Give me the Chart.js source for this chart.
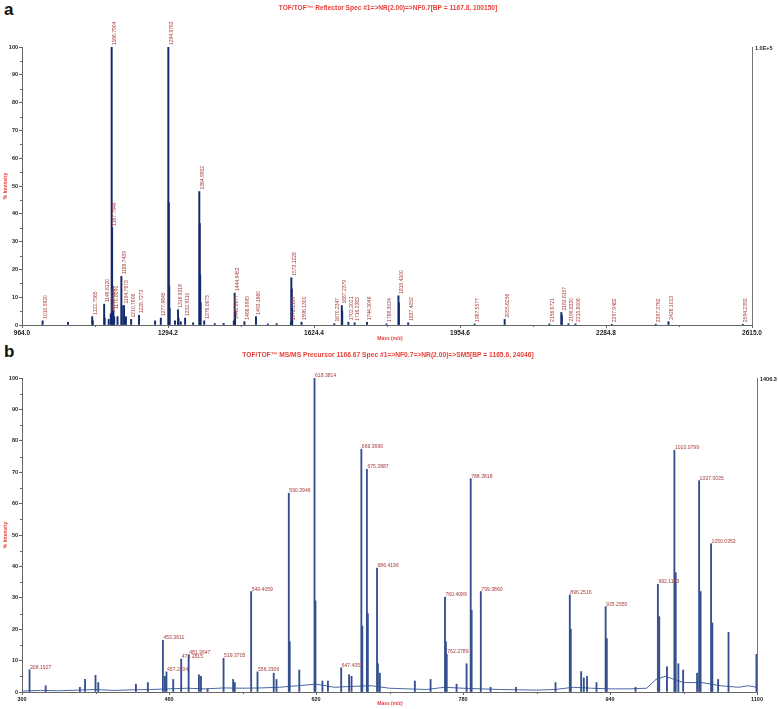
<!DOCTYPE html>
<html>
<head>
<meta charset="utf-8">
<script src="https://cdn.jsdelivr.net/npm/chart.js@4.4.1/dist/chart.umd.min.js"></script>
<style>
  body { margin: 0; background: #fff; width: 778px; height: 709px; overflow: hidden; position: relative; }
  canvas { position: absolute; left: 0; }
  #spec-a { top: 0; }
  #spec-b { top: 345px; }
  .panel-tag { position: absolute; left: 4px; font: bold 17px "Liberation Sans", Arial, sans-serif; color: #111; }
</style>
</head>
<body>
<div class="panel-tag" style="top:0">a</div>
<div class="panel-tag" style="top:342px">b</div>
<canvas id="spec-a" width="778" height="345"></canvas>
<canvas id="spec-b" width="778" height="364"></canvas>
<script>
"use strict";

// ---- panel a: reflector MS spectrum ----
const aTicks = [964.0, 1294.2, 1624.4, 1954.6, 2284.8, 2615.0];
const aMass = [
  1010.592, 1068.0, 1122.7565, 1124.0, 1149.812, 1151.0, 1160.0, 1164.782,
  1166.7904, 1167.7949, 1168.798, 1170.809, 1172.5, 1180.0, 1188.7439, 1189.75,
  1194.7673, 1199.0, 1210.7806, 1228.7273, 1265.0, 1277.9845, 1294.9763, 1295.98,
  1296.98, 1298.0, 1310.0, 1316.9316, 1318.0, 1323.0, 1332.911, 1351.0,
  1364.9952, 1366.0, 1367.0, 1368.0, 1376.0673, 1400.0, 1420.0, 1442.9877,
  1444.9452, 1446.0, 1466.9995, 1493.166, 1520.0, 1540.0, 1572.1189, 1573.1228,
  1574.13, 1575.13, 1596.13, 1670.2347, 1687.2379, 1688.24, 1702.2021, 1716.2383,
  1744.3046, 1788.3024, 1815.41, 1816.41, 1837.4052, 1987.5577, 2055.6256, 2156.6721,
  2183.8157, 2184.8, 2199.832, 2215.8006, 2297.9482, 2397.3762, 2426.1013, 2594.2393
];
const aIntensity = [
  1.5, 1.0, 3.0, 1.5, 7.5, 2.5, 2.0, 4.0,
  100, 35, 14, 5, 3, 3, 17.5, 7,
  7, 3, 2, 3.5, 1.5, 2.5, 100, 44,
  14, 6, 1.5, 5.5, 2.5, 1.2, 2.5, 0.8,
  48, 36.5, 18, 8, 1.5, 0.5, 0.6, 1.5,
  11.5, 5, 1.2, 3, 0.4, 0.5, 1.0, 17,
  13, 6, 1, 0.5, 7, 5, 1, 0.8,
  1, 0.4, 10.5, 8, 0.8, 0.4, 2, 0.4,
  4.5, 3.5, 0.5, 0.4, 0.3, 0.3, 1.2, 0.3
];
const aLabels = [
  "1010.5920", "", "1122.7565", "", "1149.8120", "", "", "1164.7820",
  "1166.7904", "1167.7949", "", "1170.8090", "", "", "1188.7439", "",
  "1194.7673", "", "1210.7806", "1228.7273", "", "1277.9845", "1294.9763", "",
  "", "", "", "1316.9316", "", "", "1332.9110", "",
  "1364.9952", "", "", "", "1376.0673", "", "", "1442.9877",
  "1444.9452", "", "1466.9995", "1493.1660", "", "", "1572.1189", "1573.1228",
  "", "", "1596.1300", "1670.2347", "1687.2379", "", "1702.2021", "1716.2383",
  "1744.3046", "1788.3024", "1815.4100", "", "1837.4052", "1987.5577", "2055.6256", "2156.6721",
  "2183.8157", "", "2199.8320", "2215.8006", "2297.9482", "2397.3762", "2426.1013", "2594.2393"
];

// ---- panel b: MS/MS spectrum of precursor 1166.67 ----
const bTicks = [300, 460, 620, 780, 940, 1100];
const bMass = [
  308.1927, 325.8, 363.0, 368.6, 380.0, 383.0, 424.0, 437.0,
  453.3611, 455.6, 457.2304, 464.6, 473.2815, 481.3647, 492.6, 494.8,
  502.0, 519.3705, 529.8, 531.6, 549.4059, 556.3306, 574.0, 577.0,
  590.3946, 591.4, 601.8, 618.3814, 619.4, 627.0, 633.0, 647.4052,
  656.0, 658.7, 669.3696, 670.4, 675.3887, 676.4, 686.4196, 687.4,
  689.5, 727.6, 744.7, 760.4089, 761.4, 762.2789, 773.0, 783.9,
  788.3818, 789.4, 799.386, 810.0, 837.6, 880.7, 896.2516, 897.3,
  908.6, 911.5, 915.0, 925.3, 935.255, 936.5, 967.8, 992.1183,
  993.6, 1002.0, 1010.0799, 1011.5, 1014.4, 1019.6, 1034.8, 1037.0035,
  1038.6, 1050.0353, 1051.4, 1057.7, 1069.0, 1099.4, 1100.0
];
const bIntensity = [
  7.1, 2, 1.5, 4, 5.3, 3, 2.5, 3,
  16.5, 5, 6.4, 4, 10.5, 11.7, 5.5, 5,
  1, 10.7, 4, 3, 32, 6.4, 6, 4,
  63.3, 16, 7, 100, 29, 3.5, 3.5, 7.7,
  5.5, 5, 77.3, 21, 70.9, 25, 39.5, 9,
  6, 3.5, 4, 30.2, 16, 12, 2.5, 9,
  67.9, 26, 32, 1.5, 1.5, 3, 30.9, 20,
  6.5, 4.5, 5, 3, 27.2, 17, 1.5, 34.3,
  24, 8, 77, 38, 9, 7, 6, 67.3,
  32, 47.2, 22, 4, 19, 12, 8
];
const bLabels = [
  "308.1927", "", "", "", "", "", "", "",
  "453.3611", "", "457.2304", "", "473.2815", "481.3647", "", "",
  "", "519.3705", "", "", "549.4059", "556.3306", "", "",
  "590.3946", "", "", "618.3814", "", "", "", "647.4052",
  "", "", "669.3696", "", "675.3887", "", "686.4196", "",
  "", "", "", "760.4089", "", "762.2789", "", "",
  "788.3818", "", "799.3860", "", "", "", "896.2516", "",
  "", "", "", "", "935.2550", "", "", "992.1183",
  "", "", "1010.0799", "", "", "", "", "1037.0035",
  "", "1050.0353", "", "", "", "", ""
];
// baseline (noise floor) of the MS/MS trace
const bBaseMass = [300, 320, 340, 360, 380, 400, 420, 440, 460, 480, 500, 520, 540, 560, 580, 600,
  620, 640, 660, 680, 700, 720, 740, 760, 780, 800, 820, 840, 860, 880, 900, 920,
  940, 960, 980, 990, 1000, 1020, 1040, 1060, 1080, 1090, 1100];
const bBaseLevel = [0.3, 0.5, 0.4, 0.6, 0.8, 0.5, 0.7, 0.8, 1.0, 1.2, 1.0, 1.3, 1.2, 1.3, 1.5, 2.0,
  2.5, 1.5, 1.8, 2.0, 1.2, 1.0, 0.8, 1.5, 1.2, 1.0, 0.8, 0.7, 0.6, 0.8, 1.5, 1.2,
  1.0, 1.0, 1.2, 4.0, 5.0, 3.0, 3.0, 2.0, 1.5, 2.0, 1.5];

const FONT = '"Liberation Sans", Arial, sans-serif';
const RED = "#e8413c";
const LABEL_RED = "#a63c3c";

function pairs(xs, ys) {
  return xs.map((x, i) => ({ x: x, y: ys[i] }));
}

// draws peak annotations, minor ticks, frame line and the red titles
const decorPlugin = {
  id: "decor",
  afterDraw(chart, args, o) {
    const ctx = chart.ctx;
    const area = chart.chartArea;
    const xs = chart.scales.x;
    const ys = chart.scales.y;
    ctx.save();

    // minor ticks
    ctx.strokeStyle = "#666";
    ctx.lineWidth = 1;
    ctx.beginPath();
    for (let i = 0; i < o.ticks.length - 1; i++) {
      const px = Math.round(xs.getPixelForValue((o.ticks[i] + o.ticks[i + 1]) / 2)) + 0.5;
      ctx.moveTo(px, area.bottom);
      ctx.lineTo(px, area.bottom + 2);
    }
    for (let v = 5; v < 100; v += 10) {
      const py = Math.round(ys.getPixelForValue(v)) + 0.5;
      ctx.moveTo(area.left - 2, py);
      ctx.lineTo(area.left, py);
    }
    ctx.stroke();

    // right frame line + scale label
    ctx.strokeStyle = "#777";
    ctx.beginPath();
    ctx.moveTo(Math.round(area.right) + 0.5, area.top);
    ctx.lineTo(Math.round(area.right) + 0.5, area.bottom);
    ctx.stroke();
    ctx.fillStyle = "#222";
    ctx.font = "bold 5.5px " + FONT;
    ctx.textAlign = "left";
    ctx.textBaseline = "top";
    ctx.fillText(o.rightLabel, area.right + 3, area.top - 1);

    // peak labels
    const meta = chart.getDatasetMeta(0);
    ctx.fillStyle = LABEL_RED;
    meta.data.forEach((el, i) => {
      const t = o.labels[i];
      if (!t) return;
      if (o.rotated) {
        ctx.save();
        ctx.font = "5px " + FONT;
        ctx.translate(el.x + 0.5, el.y - 2);
        ctx.rotate(-Math.PI / 2);
        ctx.textAlign = "left";
        ctx.textBaseline = "top";
        ctx.fillText(t, 0, 0);
        ctx.restore();
      } else {
        ctx.save();
        ctx.font = "6px " + FONT;
        ctx.translate(el.x + 0.5, el.y - 1);
        ctx.scale(0.85, 1);
        ctx.textAlign = "left";
        ctx.textBaseline = "alphabetic";
        ctx.fillText(t, 0, 0);
        ctx.restore();
      }
    });

    // titles
    ctx.fillStyle = RED;
    ctx.font = "bold " + o.titleSize + "px " + FONT;
    ctx.textAlign = "center";
    ctx.textBaseline = "middle";
    ctx.fillText(o.title, 388, o.titleY);
    ctx.font = "bold 5px " + FONT;
    ctx.fillText("Mass (m/z)", 390, o.xTitleY);
    ctx.save();
    ctx.translate(6, (area.top + area.bottom) / 2);
    ctx.rotate(-Math.PI / 2);
    ctx.fillText("% Intensity", 0, 0);
    ctx.restore();

    ctx.restore();
  },
};

function makeSpectrum(id, cfg) {
  const datasets = [
    {
      type: "bar",
      data: pairs(cfg.mass, cfg.intensity),
      backgroundColor: cfg.color,
      barThickness: cfg.barWidth,
      grouped: false,
      order: 1,
    },
  ];
  if (cfg.baseMass) {
    datasets.push({
      type: "line",
      data: pairs(cfg.baseMass, cfg.baseLevel),
      borderColor: "#4a67a6",
      borderWidth: 1,
      pointRadius: 0,
      order: 2,
    });
  }

  return new Chart(document.getElementById(id), {
    type: "bar",
    data: { datasets: datasets },
    options: {
      responsive: false,
      animation: false,
      events: [],
      layout: { padding: { left: 0, top: cfg.top, right: 778 - cfg.right, bottom: 0 } },
      plugins: {
        legend: { display: false },
        tooltip: { enabled: false },
        decor: {
          ticks: cfg.ticks,
          labels: cfg.labels,
          rotated: cfg.rotated,
          rightLabel: cfg.rightLabel,
          title: cfg.title,
          titleSize: cfg.titleSize,
          titleY: cfg.titleY,
          xTitleY: cfg.xTitleY,
        },
      },
      scales: {
        x: {
          type: "linear",
          min: cfg.ticks[0],
          max: cfg.ticks[cfg.ticks.length - 1],
          offset: false,
          afterBuildTicks: (s) => {
            s.ticks = cfg.ticks.map((v) => ({ value: v }));
          },
          afterFit: (s) => {
            s.height = cfg.height - cfg.bottom;
          },
          ticks: {
            autoSkip: false,
            maxRotation: 0,
            padding: 1,
            color: "#222",
            font: { family: FONT, size: cfg.xFont, weight: "bold" },
            callback: (v) => cfg.tickFormat(v),
          },
          grid: { drawOnChartArea: false, tickLength: 3, color: "#666", offset: false },
          border: { color: "#666", width: 1 },
        },
        y: {
          min: 0,
          max: 100,
          afterFit: (s) => {
            s.width = 22;
          },
          ticks: {
            stepSize: 10,
            padding: 1,
            color: "#222",
            font: { family: FONT, size: 5.5, weight: "bold" },
          },
          grid: { drawOnChartArea: false, tickLength: 3, color: "#666" },
          border: { color: "#666", width: 1 },
        },
      },
    },
    plugins: [decorPlugin],
  });
}

makeSpectrum("spec-a", {
  mass: aMass,
  intensity: aIntensity,
  labels: aLabels,
  ticks: aTicks,
  tickFormat: (v) => v.toFixed(1),
  xFont: 6.5,
  color: "#12296c",
  barWidth: 1.3,
  rotated: true,
  top: 47,
  bottom: 325,
  right: 752,
  height: 345,
  rightLabel: "1.0E+5",
  title: "TOF/TOF\u2122 Reflector Spec #1=>NR(2.00)=>NF0.7[BP = 1167.8, 100150]",
  titleSize: 6.6,
  titleY: 8,
  xTitleY: 339,
});

makeSpectrum("spec-b", {
  mass: bMass,
  intensity: bIntensity,
  labels: bLabels,
  ticks: bTicks,
  tickFormat: (v) => String(v),
  xFont: 5.5,
  color: "#34508e",
  barWidth: 1.2,
  rotated: false,
  baseMass: bBaseMass,
  baseLevel: bBaseLevel,
  top: 33,
  bottom: 347,
  right: 757,
  height: 364,
  rightLabel: "1406.3",
  title: "TOF/TOF\u2122 MS/MS Precursor 1166.67 Spec #1=>NF0.7=>NR(2.00)=>SM5[BP = 1165.6, 24046]",
  titleSize: 6.7,
  titleY: 10,
  xTitleY: 359,
});
</script>
</body>
</html>
